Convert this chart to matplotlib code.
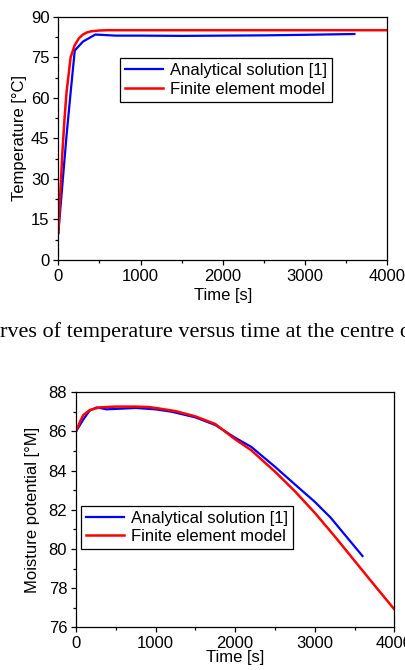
import matplotlib
matplotlib.use("Agg")
import matplotlib.pyplot as plt
from matplotlib.ticker import MultipleLocator

plt.rcParams['font.family'] = ['Liberation Sans', 'DejaVu Sans']

# ---- Data: temperature at centre ----
t_temp_analytical = [0, 50, 100, 150, 200, 300, 450, 700, 1000, 1500, 2000, 2500, 3000, 3600]
T_analytical = [10, 28, 46, 62, 77.5, 80.8, 83.4, 83.0, 83.0, 82.9, 83.0, 83.1, 83.3, 83.6]

t_temp_fem = [0, 25, 50, 75, 100, 150, 200, 250, 300, 350, 400, 500, 600, 800, 1000, 2000, 3000, 4000]
T_fem = [10, 25, 40, 52, 62, 75, 79.5, 82, 83.4, 84.2, 84.6, 84.9, 85, 85, 85, 85, 85, 85]

# ---- Data: moisture potential at centre ----
t_moist_analytical = [0, 90, 170, 260, 385, 750, 1000, 1200, 1500, 1750, 2000, 2200, 2500, 2750, 3000, 3200, 3400, 3600]
M_analytical = [86.0, 86.6, 87.06, 87.23, 87.13, 87.2, 87.13, 87.01, 86.72, 86.33, 85.68, 85.22, 84.2, 83.3, 82.41, 81.6, 80.62, 79.64]

t_moist_fem = [0, 50, 92, 176, 300, 500, 750, 900, 1000, 1250, 1500, 1750, 2000, 2200, 2500, 2750, 3000, 3250, 3500, 3750, 4000]
M_fem = [86.0, 86.5, 86.84, 87.1, 87.23, 87.27, 87.27, 87.25, 87.2, 87.04, 86.77, 86.38, 85.6, 85.05, 83.95, 82.95, 81.85, 80.65, 79.4, 78.15, 76.92]

legend_labels = ["Analytical solution [1]", "Finite element model"]
caption = "rves of temperature versus time at the centre of"

W, H = 406, 670
fig = plt.figure(figsize=(W / 100, H / 100), dpi=100)

fs = 12
blue = "#0000ff"
red = "#ff0000"


def style(ax):
    for s in ax.spines.values():
        s.set_linewidth(0.9)
        s.set_color("black")
    ax.tick_params(which="both", direction="out", top=False, right=False,
                   labelsize=fs, width=0.9, colors="black")
    ax.tick_params(which="major", length=3.8, pad=2.5)
    ax.tick_params(which="minor", length=2.2)


# Top plot
ax1 = fig.add_axes([58.3 / W, (H - 260) / H, 329 / W, 243.3 / H])
ax1.plot(t_temp_analytical, T_analytical, color=blue, lw=1.6, label=legend_labels[0])
ax1.plot(t_temp_fem, T_fem, color=red, lw=1.8, label=legend_labels[1])
ax1.set_xlim(0, 4000)
ax1.set_ylim(0, 90)
ax1.xaxis.set_major_locator(MultipleLocator(1000))
ax1.xaxis.set_minor_locator(MultipleLocator(500))
ax1.yaxis.set_major_locator(MultipleLocator(15))
ax1.yaxis.set_minor_locator(MultipleLocator(7.5))
style(ax1)
ax1.set_xlabel("Time [s]", fontsize=fs, labelpad=3)
ax1.set_ylabel("Temperature [°C]", fontsize=fs, labelpad=3)
leg1 = ax1.legend(loc="upper left", bbox_to_anchor=(0.1875, 0.829), fontsize=fs,
                  frameon=True, fancybox=False, edgecolor="black", framealpha=1,
                  handlelength=2.3, handletextpad=0.4, borderpad=0.3, labelspacing=0.2,
                  borderaxespad=0)
leg1.get_frame().set_linewidth(0.9)

# Caption
fig.text(0.0, (H - 336.7) / H, caption, fontsize=16, family=['Liberation Serif', 'DejaVu Serif'],
         ha="left", va="baseline")

# Bottom plot
ax2 = fig.add_axes([76 / W, (H - 627.3) / H, 318.3 / W, 235 / H])
ax2.plot(t_moist_analytical, M_analytical, color=blue, lw=1.6, label=legend_labels[0])
ax2.plot(t_moist_fem, M_fem, color=red, lw=1.8, label=legend_labels[1])
ax2.set_xlim(0, 4000)
ax2.set_ylim(76, 88)
ax2.xaxis.set_major_locator(MultipleLocator(1000))
ax2.xaxis.set_minor_locator(MultipleLocator(500))
ax2.yaxis.set_major_locator(MultipleLocator(2))
ax2.yaxis.set_minor_locator(MultipleLocator(1))
style(ax2)
ax2.set_xlabel("Time [s]", fontsize=fs, labelpad=-1)
ax2.set_ylabel("Moisture potential [°M]", fontsize=fs, labelpad=6)
leg2 = ax2.legend(loc="upper left", bbox_to_anchor=(0.0148, 0.517), fontsize=fs,
                  frameon=True, fancybox=False, edgecolor="black", framealpha=1,
                  handlelength=2.3, handletextpad=0.4, borderpad=0.3, labelspacing=0.2,
                  borderaxespad=0)
leg2.get_frame().set_linewidth(0.9)

fig.savefig("out.png", dpi=100)
